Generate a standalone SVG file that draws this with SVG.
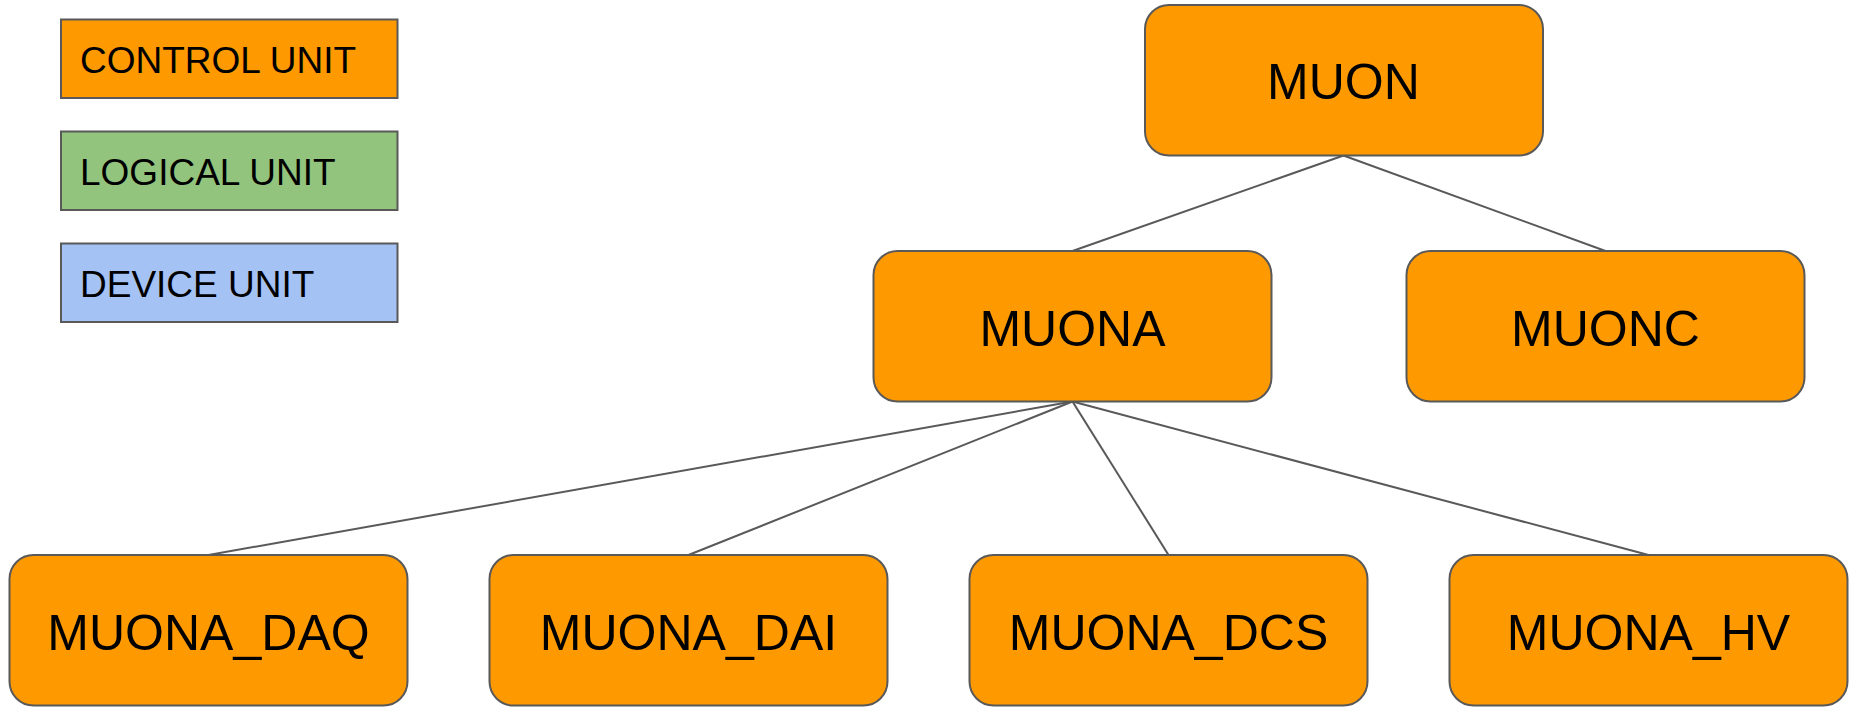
<svg xmlns="http://www.w3.org/2000/svg" width="1852" height="707" viewBox="0 0 1852 707">
<style>
.node{fill:#ff9900;stroke:#595959;stroke-width:2}
.legend{stroke:#595959;stroke-width:2}
.lbl{font-family:"Liberation Sans",Arial,sans-serif;font-size:50px;fill:#000;text-anchor:middle}
.ltxt{font-family:"Liberation Sans",Arial,sans-serif;font-size:37px;fill:#000}
.conn line{stroke:#595959;stroke-width:2}
</style>
<rect width="1852" height="707" fill="#fff"/>
<g id="legend-control"><rect class="legend" x="61" y="19.5" width="336.5" height="78.5" fill="#ff9900"/><text class="ltxt" x="80" y="72.5">CONTROL UNIT</text></g>
<g id="legend-logical"><rect class="legend" x="61" y="131.5" width="336.5" height="78.5" fill="#93c47d"/><text class="ltxt" x="80" y="185">LOGICAL UNIT</text></g>
<g id="legend-device"><rect class="legend" x="61" y="243.5" width="336.5" height="78.5" fill="#a4c2f4"/><text class="ltxt" x="80" y="296.5">DEVICE UNIT</text></g>
<g id="connectors" class="conn">
<line x1="1343.5" y1="155.5" x2="1072.5" y2="251"/>
<line x1="1343.5" y1="155.5" x2="1605.5" y2="251"/>
<line x1="1072.5" y1="401.5" x2="208.5" y2="555"/>
<line x1="1072.5" y1="401.5" x2="688.5" y2="555"/>
<line x1="1072.5" y1="401.5" x2="1168.5" y2="555"/>
<line x1="1072.5" y1="401.5" x2="1648.5" y2="555"/>
</g>
<g id="MUON"><rect class="node" x="1145" y="5" width="398" height="150.5" rx="24"/><text class="lbl" x="1343.5" y="99">MUON</text></g>
<g id="MUONA"><rect class="node" x="873.5" y="251" width="398" height="150.5" rx="24"/><text class="lbl" x="1072.5" y="346">MUONA</text></g>
<g id="MUONC"><rect class="node" x="1406.5" y="251" width="398" height="150.5" rx="24"/><text class="lbl" x="1605.5" y="346">MUONC</text></g>
<g id="MUONA_DAQ"><rect class="node" x="9.5" y="555" width="398" height="150.5" rx="24"/><text class="lbl" x="208.5" y="649.5">MUONA_DAQ</text></g>
<g id="MUONA_DAI"><rect class="node" x="489.5" y="555" width="398" height="150.5" rx="24"/><text class="lbl" x="688.5" y="649.5">MUONA_DAI</text></g>
<g id="MUONA_DCS"><rect class="node" x="969.5" y="555" width="398" height="150.5" rx="24"/><text class="lbl" x="1168.5" y="649.5">MUONA_DCS</text></g>
<g id="MUONA_HV"><rect class="node" x="1449.5" y="555" width="398" height="150.5" rx="24"/><text class="lbl" x="1648.5" y="649.5">MUONA_HV</text></g>
</svg>
